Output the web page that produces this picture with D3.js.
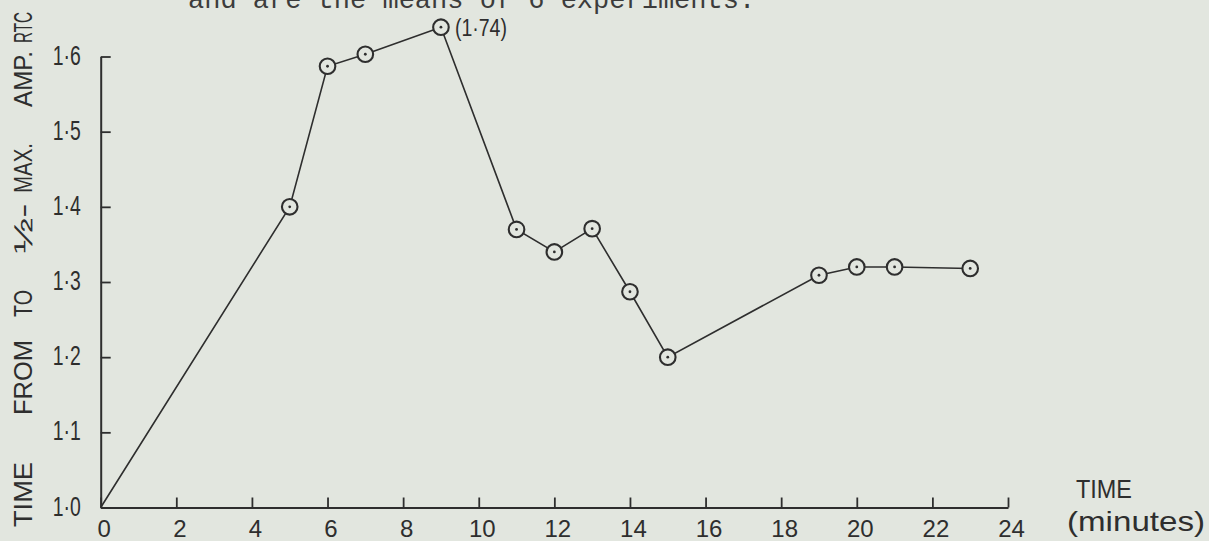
<!DOCTYPE html>
<html>
<head>
<meta charset="utf-8">
<script src="https://cdn.jsdelivr.net/npm/d3@7"></script>
<style>
  html, body { margin: 0; padding: 0; background: #e2e6df; }
  svg { display: block; }
</style>
</head>
<body>
<svg id="chart" width="1209" height="541"></svg>
<script>
// ---- data ----
const timeMinutes = [0, 5, 6, 7, 9, 11, 12, 13, 14, 15, 19, 20, 21, 23];
const timeToHalfMax = [1.0, 1.40, 1.587, 1.603, 1.639, 1.37, 1.34, 1.371, 1.287, 1.20, 1.309, 1.32, 1.32, 1.318];
const hasMarker = [false, true, true, true, true, true, true, true, true, true, true, true, true, true];
const pointNotes = ["", "", "", "", "(1·74)", "", "", "", "", "", "", "", "", ""];
const xTickValues = [0, 2, 4, 6, 8, 10, 12, 14, 16, 18, 20, 22, 24];
const yTickValues = [1.0, 1.1, 1.2, 1.3, 1.4, 1.5, 1.6];
const yTickLabels = ["1·0", "1·1", "1·2", "1·3", "1·4", "1·5", "1·6"];
const yTitleWords = ["TIME", "FROM", "TO", "½-", "MAX.", "AMP.", "RTC"];
const xTitleLines = ["TIME", "(minutes)"];
const headerText = "and are the means of 6 experiments.";

// ---- layout ----
const W = 1209, H = 541;
const plot = { left: 100.7, right: 1008, top: 56.5, bottom: 507.5 };
const ink = "#2e2e2e";
const paper = "#e2e6df";
const hand = "'Liberation Sans', 'DejaVu Sans', sans-serif";
// hand-lettered y title: centre and length of each word along the axis (px)
const yTitleLayout = [[494.5, 65], [377.5, 75], [303.5, 27], [228.5, 50], [168, 50], [79, 56], [27.5, 31]];

const svg = d3.select("#chart");
svg.append("rect").attr("width", W).attr("height", H).attr("fill", paper);

const x = d3.scaleLinear().domain([0, 24]).range([plot.left, plot.right]);
const y = d3.scaleLinear().domain([1.0, 1.6]).range([plot.bottom, plot.top]);

// header (typewritten, cut at top)
svg.append("text")
  .attr("x", 188).attr("y", 8)
  .attr("font-family", "'Liberation Mono', 'DejaVu Sans Mono', monospace")
  .attr("font-size", 27)
  .attr("fill", "#3c3c3c")
  .text(headerText);

// x axis
const xAxis = d3.axisBottom(x)
  .tickValues(xTickValues)
  .tickFormat(d3.format("d"))
  .tickSizeInner(-10)
  .tickSizeOuter(0)
  .tickPadding(12);
const gx = svg.append("g").attr("transform", `translate(0,${plot.bottom})`).call(xAxis);
gx.select(".domain").attr("stroke", ink).attr("stroke-width", 2);
gx.selectAll(".tick line").attr("stroke", ink).attr("stroke-width", 1.8);
gx.selectAll(".tick text")
  .attr("font-family", hand).attr("font-size", 24).attr("fill", ink)
  .attr("dx", 3);

// y axis
const yAxis = d3.axisLeft(y)
  .tickValues(yTickValues)
  .tickFormat((d, i) => yTickLabels[i])
  .tickSizeInner(-10)
  .tickSizeOuter(0)
  .tickPadding(20);
const gy = svg.append("g").attr("transform", `translate(${plot.left},0)`).call(yAxis);
gy.select(".domain").attr("stroke", ink).attr("stroke-width", 2);
gy.selectAll(".tick line").attr("stroke", ink).attr("stroke-width", 1.8);
gy.selectAll(".tick text")
  .attr("font-family", hand).attr("font-size", 27).attr("fill", ink)
  .attr("dy", "0.28em")
  .attr("textLength", 28).attr("lengthAdjust", "spacingAndGlyphs");

// y title (rotated, hand lettered words spread along the axis)
const gyt = svg.append("g");
yTitleWords.forEach((w, i) => {
  const [c, len] = yTitleLayout[i];
  gyt.append("text")
    .attr("transform", `translate(32,${c}) rotate(-90)`)
    .attr("x", -len / 2)
    .attr("font-family", hand).attr("font-size", 25).attr("fill", ink)
    .attr("textLength", len).attr("lengthAdjust", "spacingAndGlyphs")
    .text(w);
});

// x title
svg.append("text").attr("x", 1076).attr("y", 498)
  .attr("font-family", hand).attr("font-size", 26).attr("fill", ink)
  .attr("textLength", 56).attr("lengthAdjust", "spacingAndGlyphs")
  .text(xTitleLines[0]);
svg.append("text").attr("x", 1067).attr("y", 531)
  .attr("font-family", hand).attr("font-size", 28).attr("fill", ink)
  .attr("textLength", 138).attr("lengthAdjust", "spacingAndGlyphs")
  .text(xTitleLines[1]);

// data line
const pts = timeMinutes.map((t, i) => ({ t, v: timeToHalfMax[i], m: hasMarker[i], note: pointNotes[i] }));
const line = d3.line().x(d => x(d.t)).y(d => y(d.v));
svg.append("path").datum(pts)
  .attr("d", line)
  .attr("fill", "none").attr("stroke", ink).attr("stroke-width", 1.6);

// markers: circle with centre dot
const mk = svg.append("g").selectAll("g").data(pts.filter(d => d.m)).join("g")
  .attr("transform", d => `translate(${x(d.t)},${y(d.v)})`);
mk.append("circle").attr("r", 7.8).attr("fill", paper).attr("stroke", ink).attr("stroke-width", 2.1);
mk.append("circle").attr("r", 1.4).attr("fill", ink);

// notes
svg.append("g").selectAll("text").data(pts.filter(d => d.note)).join("text")
  .attr("x", d => x(d.t) + 14).attr("y", d => y(d.v) + 9)
  .attr("font-family", hand).attr("font-size", 23).attr("fill", ink)
  .attr("textLength", 52).attr("lengthAdjust", "spacingAndGlyphs")
  .text(d => d.note);
</script>
</body>
</html>
